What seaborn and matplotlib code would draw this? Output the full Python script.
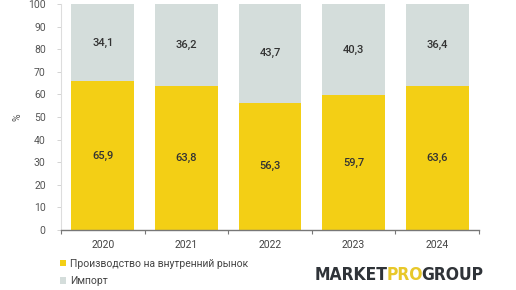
import matplotlib
matplotlib.use("Agg")
import matplotlib.pyplot as plt
import seaborn as sns
import pandas as pd
from matplotlib.offsetbox import TextArea, HPacker, AnchoredOffsetbox
from matplotlib.patches import Patch

years = ["2020", "2021", "2022", "2023", "2024"]
domestic = [65.9, 63.8, 56.3, 59.7, 63.6]
imports = [34.1, 36.2, 43.7, 40.3, 36.4]
series_names = ["Производство на внутренний рынок", "Импорт"]

YELLOW = "#F3CF15"
GRAY = "#D4DDDB"
TXT = "#333333"

sns.set_theme(style="white")
plt.rcParams['font.family'] = ['Roboto', 'DejaVu Sans']

fig = plt.figure(figsize=(5.16, 2.9), dpi=100)
ax = fig.add_axes([0.1182, 0.207, 0.810, 0.779])

df = pd.DataFrame({"year": years, "domestic": domestic,
                   "total": [d + i for d, i in zip(domestic, imports)]})

sns.barplot(data=df, x="year", y="total", color=GRAY, width=0.75,
            ax=ax, saturation=1, edgecolor="none")
sns.barplot(data=df, x="year", y="domestic", color=YELLOW, width=0.75,
            ax=ax, saturation=1, edgecolor="none")

for i, (d, im) in enumerate(zip(domestic, imports)):
    ax.text(i, d / 2, f"{d:.1f}".replace(".", ","), ha="center", va="center",
            fontsize=8, fontweight="medium", color=TXT)
    ax.text(i, d + im / 2, f"{im:.1f}".replace(".", ","), ha="center", va="center",
            fontsize=8, fontweight="medium", color=TXT)

ax.set_ylim(0, 100)
ax.set_xlim(-0.5, 4.5)
ax.set_yticks(range(0, 101, 10))
ax.tick_params(axis="y", labelsize=7.5, colors="#555555", length=3, width=0.6,
               color="#cccccc", pad=8, left=True)
ax.tick_params(axis="x", labelsize=7.5, colors="#444444", length=0, pad=7)
ax.set_xlabel("")
ax.set_ylabel("%", fontsize=7.5, color="#555555", labelpad=4)

for s in ["top", "right"]:
    ax.spines[s].set_visible(False)
ax.spines["left"].set_color("#dddddd")
ax.spines["left"].set_linewidth(0.8)
ax.spines["bottom"].set_color("#777777")
ax.spines["bottom"].set_linewidth(1.0)

ax.set_xticks([-0.5, 0.5, 1.5, 2.5, 3.5, 4.5], minor=True)
ax.tick_params(axis="x", which="minor", length=3, width=0.8, color="#777777",
               bottom=True, direction="out")

handles = [Patch(facecolor=YELLOW, edgecolor="none"),
           Patch(facecolor=GRAY, edgecolor="none")]
fig.legend(handles, series_names, loc="upper left", bbox_to_anchor=(0.098, 0.14),
           frameon=False, fontsize=7.5, handlelength=0.6, handleheight=0.6,
           handletextpad=0.4, labelspacing=0.7, labelcolor="#444444")

logo_font = dict(size=12.5, weight="bold", stretch="condensed",
                 family=["DejaVu Sans"])
parts = [TextArea("MARKET", textprops=dict(color="#2f3338", **logo_font)),
         TextArea("PRO", textprops=dict(color="#E8C82A", **logo_font)),
         TextArea("GROUP", textprops=dict(color="#2f3338", **logo_font))]
pack = HPacker(children=parts, align="baseline", pad=0, sep=-1)
ab = AnchoredOffsetbox(loc="lower right", child=pack, pad=0, frameon=False,
                       bbox_to_anchor=(0.937, 0.02), bbox_transform=fig.transFigure,
                       borderpad=0)
fig.add_artist(ab)

fig.savefig("out.png", dpi=100)
